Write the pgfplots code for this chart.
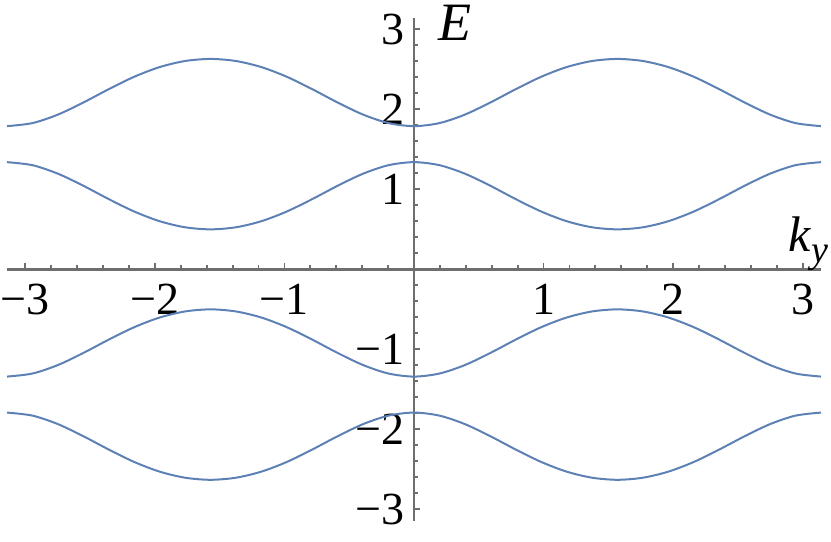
\documentclass[border=0pt]{standalone}
\usepackage{fontspec}
\setmainfont{Liberation Serif}
\newfontfamily\dvs{DejaVu Sans}
\usepackage{pgfplots}
\pgfplotsset{compat=1.18}
\definecolor{band}{rgb}{0.368417,0.506779,0.709798}
\definecolor{axgray}{HTML}{6E6E6E}

\begin{document}
\begin{tikzpicture}
\begin{axis}[
    name=ax,
    scale only axis,
    width=406.9pt, height=251.3pt,
    xmin=-3.14159, xmax=3.14159,
    ymin=-3.14159, ymax=3.14159,
    axis lines=middle,
    axis line style={-, draw=axgray, line width=1.2pt},
    tick align=inside,
    major tick length=3pt, minor tick length=2pt,
    minor tick num=4,
    every tick/.style={draw=axgray, line width=0.9pt},
    xtick={-3,...,3},
    xticklabels={\textrm{−3},\textrm{−2},\textrm{−1},,\textrm{1},\textrm{2},\textrm{3}},
    ytick={-3,...,3},
    yticklabels={\textrm{−3},\textrm{−2},\textrm{−1},,\textrm{1},\textrm{2},\textrm{3}},
    ticklabel style={font=\fontsize{23}{27}\selectfont\rmfamily},
    xticklabel style={inner sep=0pt, anchor=north, yshift=-7pt},
    yticklabel style={inner sep=0pt, anchor=east, xshift=-4.5pt},
    clip=false,
]
% four bands E(k_y)
\addplot[band, line width=1pt, smooth, no marks] coordinates {
(-3.14159,1.790) (-2.94524,1.828) (-2.74889,1.934) (-2.55254,2.085) (-2.35619,2.252)
(-2.15984,2.407) (-1.96350,2.528) (-1.76715,2.604) (-1.57080,2.630) (-1.37445,2.604)
(-1.17810,2.528) (-0.98175,2.407) (-0.78540,2.252) (-0.58905,2.085) (-0.39270,1.934)
(-0.19635,1.828) (0,1.790) (0.19635,1.828) (0.39270,1.934) (0.58905,2.085)
(0.78540,2.252) (0.98175,2.407) (1.17810,2.528) (1.37445,2.604) (1.57080,2.630)
(1.76715,2.604) (1.96350,2.528) (2.15984,2.407) (2.35619,2.252) (2.55254,2.085)
(2.74889,1.934) (2.94524,1.828) (3.14159,1.790)
};
\addplot[band, line width=1pt, smooth, no marks] coordinates {
(-3.14159,1.340) (-2.94524,1.302) (-2.74889,1.196) (-2.55254,1.045) (-2.35619,0.878)
(-2.15984,0.723) (-1.96350,0.602) (-1.76715,0.526) (-1.57080,0.500) (-1.37445,0.526)
(-1.17810,0.602) (-0.98175,0.723) (-0.78540,0.878) (-0.58905,1.045) (-0.39270,1.196)
(-0.19635,1.302) (0,1.340) (0.19635,1.302) (0.39270,1.196) (0.58905,1.045)
(0.78540,0.878) (0.98175,0.723) (1.17810,0.602) (1.37445,0.526) (1.57080,0.500)
(1.76715,0.526) (1.96350,0.602) (2.15984,0.723) (2.35619,0.878) (2.55254,1.045)
(2.74889,1.196) (2.94524,1.302) (3.14159,1.340)
};
\addplot[band, line width=1pt, smooth, no marks] coordinates {
(-3.14159,-1.340) (-2.94524,-1.302) (-2.74889,-1.196) (-2.55254,-1.045) (-2.35619,-0.878)
(-2.15984,-0.723) (-1.96350,-0.602) (-1.76715,-0.526) (-1.57080,-0.500) (-1.37445,-0.526)
(-1.17810,-0.602) (-0.98175,-0.723) (-0.78540,-0.878) (-0.58905,-1.045) (-0.39270,-1.196)
(-0.19635,-1.302) (0,-1.340) (0.19635,-1.302) (0.39270,-1.196) (0.58905,-1.045)
(0.78540,-0.878) (0.98175,-0.723) (1.17810,-0.602) (1.37445,-0.526) (1.57080,-0.500)
(1.76715,-0.526) (1.96350,-0.602) (2.15984,-0.723) (2.35619,-0.878) (2.55254,-1.045)
(2.74889,-1.196) (2.94524,-1.302) (3.14159,-1.340)
};
\addplot[band, line width=1pt, smooth, no marks] coordinates {
(-3.14159,-1.790) (-2.94524,-1.828) (-2.74889,-1.934) (-2.55254,-2.085) (-2.35619,-2.252)
(-2.15984,-2.407) (-1.96350,-2.528) (-1.76715,-2.604) (-1.57080,-2.630) (-1.37445,-2.604)
(-1.17810,-2.528) (-0.98175,-2.407) (-0.78540,-2.252) (-0.58905,-2.085) (-0.39270,-1.934)
(-0.19635,-1.828) (0,-1.790) (0.19635,-1.828) (0.39270,-1.934) (0.58905,-2.085)
(0.78540,-2.252) (0.98175,-2.407) (1.17810,-2.528) (1.37445,-2.604) (1.57080,-2.630)
(1.76715,-2.604) (1.96350,-2.528) (2.15984,-2.407) (2.35619,-2.252) (2.55254,-2.085)
(2.74889,-1.934) (2.94524,-1.828) (3.14159,-1.790)
};
\node[anchor=west, inner sep=0pt, font=\fontsize{27}{30}\selectfont\rmfamily]
    at (axis cs:0,3.14159) [xshift=12pt, yshift=-2.25pt] {\textit{E}};
\node[anchor=base east, inner sep=0pt, font=\fontsize{25}{28}\selectfont\rmfamily]
    at (axis cs:3.14159,0) [xshift=4pt, yshift=9pt]
    {\textit{k}\raisebox{-0.22em}{\fontsize{19}{21}\selectfont\textit{y}}};
\end{axis}
\pgfresetboundingbox
\path ([shift={(-3.5pt,-10.5pt)}]ax.south west) rectangle ([shift={(5pt,9pt)}]ax.north east);
\end{tikzpicture}
\end{document}
